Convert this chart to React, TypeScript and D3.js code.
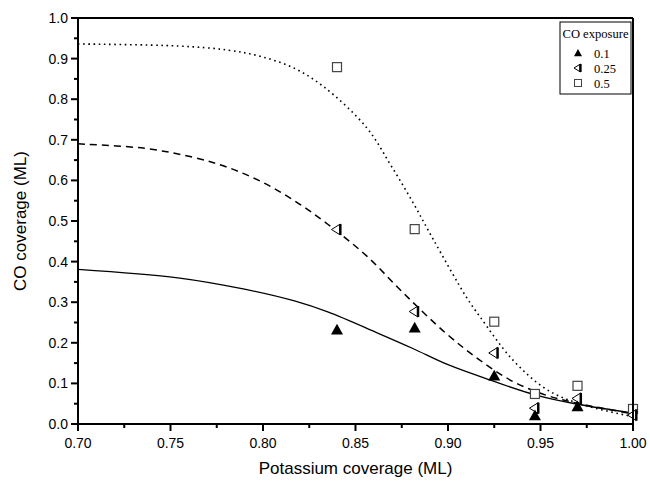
import React from "react";
import * as d3 from "d3";

const xTicks = [0.7, 0.75, 0.8, 0.85, 0.9, 0.95, 1.0];
const yTicks = [0, 0.1, 0.2, 0.3, 0.4, 0.5, 0.6, 0.7, 0.8, 0.9, 1.0];

const k = [0.84, 0.882, 0.925, 0.947, 0.97, 1.0];
const co01 = [0.232, 0.237, 0.119, 0.021, 0.043];
const co025 = [0.479, 0.277, 0.175, 0.039, 0.063, 0.022];
const co05 = [0.879, 0.48, 0.252, 0.074, 0.094, 0.037];

const fitX01 = [0.7, 0.754, 0.79, 0.817, 0.835, 0.862, 0.881, 0.9, 0.923, 0.947, 0.971, 1.0];
const fitY01 = [0.381, 0.36, 0.332, 0.303, 0.276, 0.224, 0.186, 0.146, 0.108, 0.072, 0.048, 0.027];
const fitX025 = [0.7, 0.736, 0.763, 0.781, 0.799, 0.817, 0.835, 0.856, 0.876, 0.899, 0.917, 0.935, 0.953, 0.971, 1.0];
const fitY025 = [0.69, 0.679, 0.656, 0.632, 0.597, 0.55, 0.492, 0.414, 0.322, 0.223, 0.158, 0.105, 0.071, 0.05, 0.025];
const fitX05 = [0.7, 0.754, 0.781, 0.799, 0.817, 0.833, 0.856, 0.869, 0.881, 0.892, 0.91, 0.917, 0.935, 0.953, 0.971, 1.0];
const fitY05 = [0.936, 0.931, 0.921, 0.905, 0.876, 0.83, 0.73, 0.638, 0.546, 0.455, 0.312, 0.266, 0.158, 0.086, 0.05, 0.018];

const legendLabels = ["0.1", "0.25", "0.5"];

const L = 78, R = 633, T = 18, B = 424;

export default function App() {
  const x = d3.scaleLinear().domain([0.7, 1.0]).range([L, R]);
  const y = d3.scaleLinear().domain([0, 1]).range([B, T]);
  const line = d3.line<[number, number]>().x(d => x(d[0])).y(d => y(d[1])).curve(d3.curveCatmullRom.alpha(0.5));
  const mk = (xs: number[], ys: number[]) => xs.map((v, i) => [v, ys[i]] as [number, number]);

  const xMinor = d3.range(0, 6).map(i => 0.725 + i * 0.05);
  const yMinor = d3.range(0, 10).map(i => 0.05 + i * 0.1);

  const triUp = (cx: number, cy: number, s = 6) =>
    `M${cx},${cy - s} L${cx + s},${cy + s * 0.8} L${cx - s},${cy + s * 0.8} Z`;
  const triLeft = (cx: number, cy: number, s = 6) =>
    `M${cx - s},${cy} L${cx + s * 0.6},${cy - s} L${cx + s * 0.6},${cy + s} Z`;

  const LeftTri = ({ cx, cy, s = 5.5 }: { cx: number; cy: number; s?: number }) => (
    <g>
      <path d={triLeft(cx, cy, s)} fill="white" stroke="#000" strokeWidth={1} />
      <line x1={cx + s * 0.6} y1={cy - s} x2={cx + s * 0.6} y2={cy + s} stroke="#000" strokeWidth={2.5} />
    </g>
  );

  return (
    <svg width={650} height={487} style={{ display: "block", position: "absolute", left: 0, top: 0 }}>
      <rect x={0} y={0} width={650} height={487} fill="white" />
      <path d={line(mk(fitX01, fitY01)) || ""} fill="none" stroke="#000" strokeWidth={1.3} />
      <path d={line(mk(fitX025, fitY025)) || ""} fill="none" stroke="#000" strokeWidth={1.5} strokeDasharray="7,5" />
      <path d={line(mk(fitX05, fitY05)) || ""} fill="none" stroke="#000" strokeWidth={1.6} strokeDasharray="1.6,3.6" />
      {co05.map((v, i) => (
        <rect key={"s" + i} x={x(k[i]) - 4.5} y={y(v) - 4.5} width={9} height={9} fill="white" stroke="#444" strokeWidth={1.2} />
      ))}
      {co025.map((v, i) => <LeftTri key={"l" + i} cx={x(k[i])} cy={y(v)} />)}
      {co01.map((v, i) => <path key={"t" + i} d={triUp(x(k[i]), y(v))} fill="#000" />)}
      <line x1={L} y1={T} x2={R} y2={T} stroke="#000" strokeWidth={2} />
      <line x1={R} y1={T} x2={R} y2={B} stroke="#000" strokeWidth={2} />
      <line x1={L} y1={T} x2={L} y2={B} stroke="#000" strokeWidth={2} />
      <line x1={L} y1={B} x2={R} y2={B} stroke="#000" strokeWidth={2} />
      {xTicks.map(t => (
        <g key={"xt" + t}>
          <line x1={x(t)} y1={B} x2={x(t)} y2={B + 7} stroke="#000" strokeWidth={2} />
          <text x={x(t)} y={B + 24} textAnchor="middle" fontFamily="Liberation Sans, Arial, sans-serif" fontSize={14}>
            {t.toFixed(2)}
          </text>
        </g>
      ))}
      {xMinor.map(t => (
        <line key={"xm" + t} x1={x(t)} y1={B} x2={x(t)} y2={B + 4} stroke="#000" strokeWidth={2} />
      ))}
      {yTicks.map(t => (
        <g key={"yt" + t}>
          <line x1={L - 7} y1={y(t)} x2={L} y2={y(t)} stroke="#000" strokeWidth={2} />
          <text x={L - 10} y={y(t) + 5} textAnchor="end" fontFamily="Liberation Sans, Arial, sans-serif" fontSize={14}>
            {t.toFixed(1)}
          </text>
        </g>
      ))}
      {yMinor.map(t => (
        <line key={"ym" + t} x1={L - 4} y1={y(t)} x2={L} y2={y(t)} stroke="#000" strokeWidth={2} />
      ))}
      <text x={(L + R) / 2} y={474} textAnchor="middle" fontFamily="Liberation Sans, Arial, sans-serif" fontSize={17}>
        Potassium coverage (ML)
      </text>
      <text transform={`translate(26,${(T + B) / 2}) rotate(-90)`} textAnchor="middle" fontFamily="Liberation Sans, Arial, sans-serif" fontSize={17}>
        CO coverage (ML)
      </text>
      <rect x={560} y={22} width={71} height={72} fill="white" stroke="#000" strokeWidth={1} />
      <text x={595.5} y={38} textAnchor="middle" fontFamily="Liberation Serif, Times New Roman, serif" fontSize={12.5} textLength={66} lengthAdjust="spacingAndGlyphs">
        CO exposure
      </text>
      <path d={triUp(578, 53, 4)} fill="#000" />
      <LeftTri cx={578} cy={68} s={4} />
      <rect x={574.5} y={79.5} width={7} height={7} fill="white" stroke="#444" strokeWidth={1} />
      {legendLabels.map((s, i) => (
        <text key={s} x={594} y={57.5 + i * 15} fontFamily="Liberation Serif, Times New Roman, serif" fontSize={12.5}>
          {s}
        </text>
      ))}
    </svg>
  );
}
